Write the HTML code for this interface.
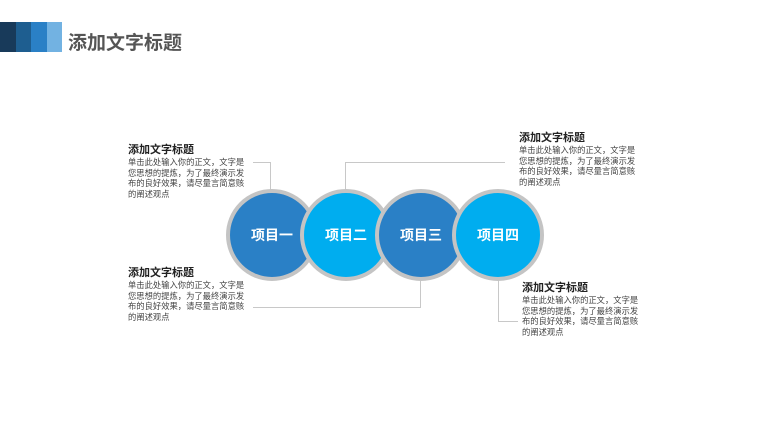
<!DOCTYPE html>
<html><head><meta charset="utf-8"><style>
body{margin:0;width:767px;height:432px;background:#fff;position:relative;overflow:hidden;font-family:"Liberation Sans","Noto Sans CJK SC",sans-serif}
.a{position:absolute}
.t{position:absolute;font-size:11px;font-weight:bold;color:#222;line-height:12px;white-space:nowrap}
.b{position:absolute;font-size:8.3px;color:#444;line-height:10.5px;width:120px;word-break:break-all}
.c{position:absolute;width:84px;height:84px;border-radius:50%;border:4px solid #c4c4c4;color:#fff;font-weight:bold;font-size:14px;display:flex;align-items:center;justify-content:center}
.l{position:absolute;background:#c8c8c8}
</style></head><body>
<div class="a" style="left:0;top:22px;width:16px;height:30px;background:#183a5a"></div>
<div class="a" style="left:16px;top:22px;width:15px;height:30px;background:#1e5e90"></div>
<div class="a" style="left:31px;top:22px;width:16px;height:30px;background:#2a80c6"></div>
<div class="a" style="left:47px;top:22px;width:15px;height:30px;background:#72b2e2"></div>
<div class="a" style="left:68px;top:32px;font-size:19px;font-weight:bold;color:#555;line-height:23px">添加文字标题</div>

<div class="l" style="left:253px;top:162px;width:18px;height:1px"></div>
<div class="l" style="left:270px;top:162px;width:1px;height:28px"></div>
<div class="l" style="left:253px;top:307px;width:168px;height:1px"></div>
<div class="l" style="left:420px;top:280px;width:1px;height:28px"></div>
<div class="l" style="left:345px;top:162px;width:160px;height:1px"></div>
<div class="l" style="left:345px;top:162px;width:1px;height:28px"></div>
<div class="l" style="left:498px;top:280px;width:1px;height:41px"></div>
<div class="l" style="left:498px;top:321px;width:20px;height:1px"></div>

<div class="c" style="left:226px;top:189px;background:#2a80c6">项目一</div>
<div class="c" style="left:300px;top:189px;background:#00adef">项目二</div>
<div class="c" style="left:375px;top:189px;background:#2a80c6">项目三</div>
<div class="c" style="left:452px;top:189px;background:#00adef">项目四</div>

<div class="t" style="left:128px;top:144px">添加文字标题</div>
<div class="b" style="left:128px;top:157px">单击此处输入你的正文，文字是您思想的提炼，为了最终演示发布的良好效果，请尽量言简意赅的阐述观点</div>
<div class="t" style="left:128px;top:267px">添加文字标题</div>
<div class="b" style="left:128px;top:280px">单击此处输入你的正文，文字是您思想的提炼，为了最终演示发布的良好效果，请尽量言简意赅的阐述观点</div>
<div class="t" style="left:519px;top:132px">添加文字标题</div>
<div class="b" style="left:519px;top:145px">单击此处输入你的正文，文字是您思想的提炼，为了最终演示发布的良好效果，请尽量言简意赅的阐述观点</div>
<div class="t" style="left:522px;top:282px">添加文字标题</div>
<div class="b" style="left:522px;top:295px">单击此处输入你的正文，文字是您思想的提炼，为了最终演示发布的良好效果，请尽量言简意赅的阐述观点</div>
</body></html>
